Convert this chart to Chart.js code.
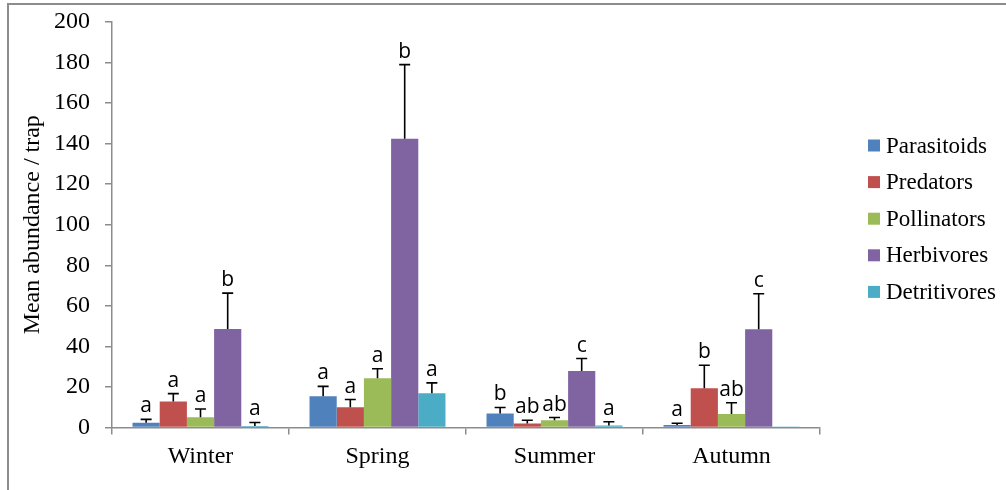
<!DOCTYPE html>
<html>
<head>
<meta charset="utf-8">
<script src="https://cdn.jsdelivr.net/npm/chart.js@4.4.1/dist/chart.umd.min.js"></script>
<style>
  html, body { margin: 0; padding: 0; background: #fff; }
  #wrap { position: relative; width: 1006px; height: 490px; overflow: hidden; }
  #frame {
    position: absolute; left: 7px; top: 3px; right: -4px; bottom: -4px;
    border-left: 2px solid #8c8c8c; border-top: 2px solid #8c8c8c;
    pointer-events: none;
  }
  canvas { position: absolute; left: 0; top: 0; }
</style>
</head>
<body>
<div id="wrap">
  <canvas id="chart" width="1006" height="490"></canvas>
  <div id="frame"></div>
</div>
<script>
const SEASONS = ['Winter', 'Spring', 'Summer', 'Autumn'];
const GROUPS = ['Parasitoids', 'Predators', 'Pollinators', 'Herbivores', 'Detritivores'];
const COLORS = ['#4F81BD', '#C0504D', '#9BBB59', '#8064A2', '#4BACC6'];
const Y_TICKS = [0, 20, 40, 60, 80, 100, 120, 140, 160, 180, 200];

// means per season (Winter, Spring, Summer, Autumn)
const PARASITOIDS = [2.3, 15.4, 6.9, 1.2];
const PREDATORS = [12.8, 10.0, 2.0, 19.4];
const POLLINATORS = [5.0, 24.3, 3.6, 6.7];
const HERBIVORES = [48.6, 142.4, 27.9, 48.5];
const DETRITIVORES = [0.8, 16.9, 1.0, 0.3];

// standard errors (upper bars only)
const PARASITOIDS_SE = [1.7, 4.9, 3.0, 0.9];
const PREDATORS_SE = [3.9, 3.8, 1.6, 11.3];
const POLLINATORS_SE = [4.1, 4.7, 1.3, 5.5];
const HERBIVORES_SE = [17.7, 36.6, 6.1, 17.5];
const DETRITIVORES_SE = [1.7, 5.1, 1.8, 0];

// significance letters
const PARASITOIDS_SIG = ['a', 'a', 'b', 'a'];
const PREDATORS_SIG = ['a', 'a', 'ab', 'b'];
const POLLINATORS_SIG = ['a', 'a', 'ab', 'ab'];
const HERBIVORES_SIG = ['b', 'b', 'c', 'c'];
const DETRITIVORES_SIG = ['a', 'a', 'a', ''];

const VALUES = [PARASITOIDS, PREDATORS, POLLINATORS, HERBIVORES, DETRITIVORES];
const ERRORS = [PARASITOIDS_SE, PREDATORS_SE, POLLINATORS_SE, HERBIVORES_SE, DETRITIVORES_SE];
const LETTERS = [PARASITOIDS_SIG, PREDATORS_SIG, POLLINATORS_SIG, HERBIVORES_SIG, DETRITIVORES_SIG];

const SERIF = '"Liberation Serif", "Times New Roman", serif';
const AXIS = '#8c8c8c';

const errorBars = {
  id: 'errorBars',
  afterDatasetsDraw(chart) {
    const { ctx } = chart;
    const y = chart.scales.y;
    ctx.save();
    chart.data.datasets.forEach((ds, i) => {
      const meta = chart.getDatasetMeta(i);
      meta.data.forEach((bar, j) => {
        const err = ds.errors[j];
        let top = bar.y;
        if (err > 0) {
          top = y.getPixelForValue(ds.data[j] + err);
          ctx.strokeStyle = '#000';
          ctx.lineWidth = 1.6;
          ctx.beginPath();
          ctx.moveTo(bar.x, bar.y);
          ctx.lineTo(bar.x, top);
          ctx.moveTo(bar.x - 5.5, top);
          ctx.lineTo(bar.x + 5.5, top);
          ctx.stroke();
        }
        const letter = ds.letters[j];
        if (letter) {
          ctx.fillStyle = '#000';
          ctx.font = '21px "Open Sans", sans-serif';
          ctx.textAlign = 'center';
          ctx.textBaseline = 'alphabetic';
          ctx.fillText(letter, bar.x, top - 7);
        }
      });
    });
    ctx.restore();
  },
};

const sideLegend = {
  id: 'sideLegend',
  afterDraw(chart) {
    const { ctx } = chart;
    ctx.save();
    ctx.font = '23px ' + SERIF;
    ctx.textBaseline = 'middle';
    ctx.textAlign = 'left';
    chart.data.datasets.forEach((ds, i) => {
      const cy = 145.5 + i * 36.6;
      ctx.fillStyle = ds.backgroundColor;
      ctx.fillRect(868, cy - 6, 12, 12);
      ctx.fillStyle = '#000';
      ctx.fillText(ds.label, 886, cy + 1);
    });
    ctx.restore();
  },
};

new Chart(document.getElementById('chart'), {
  type: 'bar',
  data: {
    labels: SEASONS,
    datasets: GROUPS.map((name, i) => ({
      label: name,
      data: VALUES[i],
      errors: ERRORS[i],
      letters: LETTERS[i],
      backgroundColor: COLORS[i],
      borderWidth: 0,
      categoryPercentage: 0.768,
      barPercentage: 1.0,
    })),
  },
  options: {
    responsive: false,
    animation: false,
    devicePixelRatio: 1,
    layout: { padding: { left: 0, right: 186, top: 22, bottom: 0 } },
    plugins: {
      legend: { display: false },
      tooltip: { enabled: false },
    },
    scales: {
      x: {
        grid: { display: true, drawOnChartArea: false, drawTicks: true, tickLength: 7, color: AXIS, lineWidth: 1.5, offset: true },
        border: { display: true, color: AXIS, width: 1.5 },
        ticks: { color: '#000', font: { family: SERIF, size: 24 }, padding: 8 },
        afterFit(scale) { scale.height = 62.5; },
      },
      y: {
        min: 0,
        max: 200,
        afterBuildTicks(scale) { scale.ticks = Y_TICKS.map((v) => ({ value: v })); },
        grid: { display: true, drawOnChartArea: false, drawTicks: true, tickLength: 7, color: AXIS, lineWidth: 1.5 },
        border: { display: true, color: AXIS, width: 1.5 },
        ticks: { color: '#000', font: { family: SERIF, size: 24 }, padding: 15 },
        title: {
          display: true,
          text: 'Mean abundance / trap',
          color: '#000',
          font: { family: SERIF, size: 24 },
          padding: { top: 18, bottom: 0 },
        },
        afterFit(scale) {
          scale.width = 112;
          scale.paddingTop = 4;
          scale.paddingBottom = 4;
        },
      },
    },
  },
  plugins: [errorBars, sideLegend],
});
</script>
</body>
</html>
